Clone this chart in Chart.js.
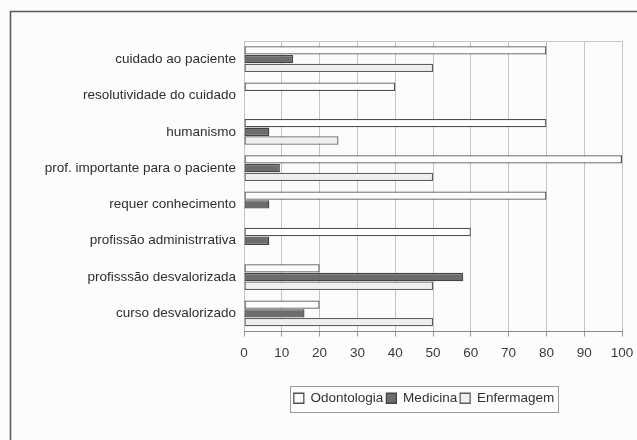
<!DOCTYPE html>
<html>
<head>
<meta charset="utf-8">
<script src="https://cdn.jsdelivr.net/npm/chart.js@4.4.0/dist/chart.umd.min.js"></script>
<style>
    html, body { margin: 0; padding: 0; background: #fcfcfc; overflow: hidden; width: 637px; height: 440px; }
    #marco { position: absolute; left: 0; top: 0; width: 660px; height: 470px; }
</style>
</head>
<body>
<div id="marco"><canvas id="grafico" width="660" height="470"></canvas></div>
<script>
// Dados (%)
const categorias = [
    'cuidado ao paciente',
    'resolutividade do cuidado',
    'humanismo',
    'prof. importante para o paciente',
    'requer conhecimento',
    'profissão administrrativa',
    'profisssão desvalorizada',
    'curso desvalorizado'
];
const odontologia = [80, 40, 80, 100, 80, 60, 20, 20];
const medicina    = [13, 0, 6.7, 9.5, 6.7, 6.7, 58, 16];
const enfermagem  = [50, 0, 25, 50, 0, 0, 50, 50];
const ticksX = [0, 10, 20, 30, 40, 50, 60, 70, 80, 90, 100];

const fonte = "'Liberation Sans', Arial, sans-serif";

// Moldura da figura, borda superior da área do gráfico e caixa da legenda
const molduraPlugin = {
    id: 'moldura',
    afterLayout(chart) {
        // legenda centrada em x ~ 424 como no original
        chart.legend.left += 113;
        chart.legend.right += 113;
    },
    beforeDraw(chart) {
        const ctx = chart.ctx;
        ctx.save();
        ctx.fillStyle = '#fcfcfc';
        ctx.fillRect(0, 0, chart.width, chart.height);
        ctx.strokeStyle = '#5a5a5a';
        ctx.lineWidth = 1.6;
        ctx.beginPath();
        ctx.moveTo(10.5, chart.height + 5);
        ctx.lineTo(10.5, 11.5);
        ctx.lineTo(chart.width + 5, 11.5);
        ctx.stroke();
        ctx.restore();
    },
    afterDraw(chart) {
        const ctx = chart.ctx;
        const a = chart.chartArea;
        ctx.save();
        ctx.strokeStyle = '#c4c4c4';
        ctx.lineWidth = 1;
        ctx.beginPath();
        ctx.moveTo(a.left, Math.round(a.top) + 0.5);
        ctx.lineTo(a.right, Math.round(a.top) + 0.5);
        ctx.stroke();

        const caixas = chart.legend.legendHitBoxes;
        if (caixas && caixas.length) {
            const esq = Math.min(...caixas.map(c => c.left)) - 4;
            const dir = Math.max(...caixas.map(c => c.left + c.width)) + 4;
            const topo = caixas[0].top - 6;
            const base = caixas[0].top + caixas[0].height + 6;
            ctx.strokeStyle = '#9a9a9a';
            ctx.strokeRect(Math.round(esq) + 0.5, Math.round(topo) + 0.5, Math.round(dir - esq), Math.round(base - topo));
        }
        ctx.restore();
    }
};

const serie = (rotulo, dados, fundo, borda) => ({
    label: rotulo,
    data: dados,
    backgroundColor: fundo,
    borderColor: borda,
    borderWidth: 1.3,
    borderSkipped: false,
    categoryPercentage: 0.72,
    barPercentage: 0.96
});

new Chart(document.getElementById('grafico'), {
    type: 'bar',
    data: {
        labels: categorias,
        datasets: [
            serie('Odontologia', odontologia, '#fdfdfd', '#4e4e4e'),
            serie('Medicina', medicina, '#6c6c6c', '#444444'),
            serie('Enfermagem', enfermagem, '#efefef', '#5e5e5e')
        ]
    },
    options: {
        indexAxis: 'y',
        responsive: false,
        animation: false,
        layout: { padding: { top: 41, left: 0, right: 38, bottom: 55 } },
        plugins: {
            legend: {
                position: 'bottom',
                labels: {
                    color: '#333',
                    font: { size: 13.5, family: fonte },
                    boxWidth: 10,
                    boxHeight: 10,
                    padding: 3
                }
            },
            tooltip: { enabled: false }
        },
        scales: {
            x: {
                min: 0,
                max: 100,
                afterBuildTicks: (escala) => { escala.ticks = ticksX.map(v => ({ value: v })); },
                afterFit: (escala) => { escala.height = 57; },
                ticks: {
                    color: '#3a3a3a',
                    font: { size: 13.5, family: fonte },
                    padding: 9,
                    maxRotation: 0
                },
                grid: {
                    color: '#c4c4c4',
                    lineWidth: 1,
                    tickLength: 5,
                    tickColor: '#999'
                },
                border: { display: true, color: '#8a8a8a' }
            },
            y: {
                afterFit: (escala) => { escala.width = 244; },
                ticks: {
                    color: '#2e2e2e',
                    font: { size: 13.5, family: fonte },
                    padding: 0
                },
                grid: { display: false },
                border: { display: false }
            }
        }
    },
    plugins: [molduraPlugin]
});
</script>
</body>
</html>
